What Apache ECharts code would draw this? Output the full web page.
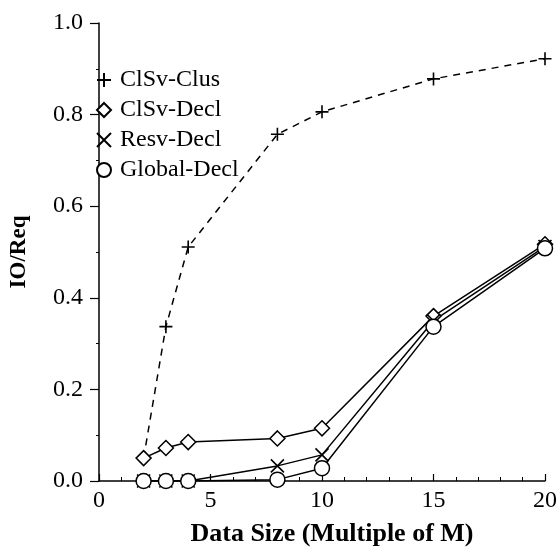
<!DOCTYPE html>
<html>
<head>
<meta charset="utf-8">
<script src="https://cdn.jsdelivr.net/npm/echarts@6/dist/echarts.min.js"></script>
<style>
html,body{margin:0;padding:0;background:#fff;}
#chart{width:560px;height:552px;}
</style>
</head>
<body>
<div id="chart"></div>
<script>
var seriesNames = ['ClSv-Clus', 'ClSv-Decl', 'Resv-Decl', 'Global-Decl'];
var xClus = [2, 3, 4, 8, 10, 15, 20];
var yClus = [0.05, 0.337, 0.511, 0.757, 0.806, 0.878, 0.922];
var xDecl = [2, 3, 4, 8, 10, 15, 20];
var yClSvDecl = [0.05, 0.072, 0.085, 0.093, 0.115, 0.36, 0.517];
var yResvDecl = [0, 0, 0, 0.033, 0.057, 0.35, 0.512];
var yGlobalDecl = [0, 0, 0, 0.003, 0.028, 0.337, 0.508];
var xTicks = [0, 5, 10, 15, 20];
var yTicks = [0.0, 0.2, 0.4, 0.6, 0.8, 1.0];

var PLUS = 'path://M0,5L10,5M5,0L5,10';
var DIAMOND = 'path://M5,0L10,5L5,10L0,5Z';
var CROSS = 'path://M0,0L10,10M10,0L0,10';

function pairs(xs, ys) { return xs.map(function (x, i) { return [x, ys[i]]; }); }

var clusData = pairs(xClus, yClus).map(function (p, i) {
  return i === 0 ? { value: p, symbol: 'none' } : { value: p };
});

var chart = echarts.init(document.getElementById('chart'), null, { renderer: 'canvas' });
var font = 'Liberation Serif';
var option = {
  animation: false,
  backgroundColor: '#fff',
  grid: { left: 98, right: 15, top: 23, bottom: 69, containLabel: false },
  legend: {
    orient: 'vertical',
    left: 91,
    top: 63,
    itemGap: 6,
    itemWidth: 14,
    itemHeight: 14,
    textStyle: { fontFamily: font, fontSize: 24, color: '#000', padding: [0, 0, 0, 4] },
    data: [
      { name: seriesNames[0], icon: PLUS },
      { name: seriesNames[1], icon: DIAMOND },
      { name: seriesNames[2], icon: CROSS },
      { name: seriesNames[3], icon: 'circle' }
    ]
  },
  xAxis: {
    type: 'value', min: 0, max: 20, interval: 5,
    name: 'Data Size (Multiple of M)',
    nameLocation: 'middle', nameGap: 40,
    nameTextStyle: { fontFamily: font, fontSize: 26, fontWeight: 'bold', color: '#000', padding: [0, 0, 0, 20] },
    axisLine: { lineStyle: { color: '#000', width: 1.5 } },
    axisTick: { inside: true, length: 7, lineStyle: { color: '#000', width: 1.2 } },
    minorTick: { show: true, splitNumber: 5, length: 4, lineStyle: { color: '#000', width: 1 } },
    splitLine: { show: false },
    axisLabel: { fontFamily: font, fontSize: 24, color: '#000', margin: 8,
      formatter: function (v) { return xTicks.indexOf(v) >= 0 ? String(v) : ''; } }
  },
  yAxis: {
    type: 'value', min: 0, max: 1, interval: 0.2,
    name: 'IO/Req',
    nameLocation: 'middle', nameGap: 68,
    nameTextStyle: { fontFamily: font, fontSize: 23, fontWeight: 'bold', color: '#000' },
    axisLine: { show: true, lineStyle: { color: '#000', width: 1.5 } },
    axisTick: { show: true, inside: false, length: 9, lineStyle: { color: '#000', width: 1.2 } },
    minorTick: { show: true, splitNumber: 2, length: 3, lineStyle: { color: '#000', width: 1 } },
    splitLine: { show: false },
    axisLabel: { fontFamily: font, fontSize: 24, color: '#000', margin: 16,
      formatter: function (v) {
        for (var i = 0; i < yTicks.length; i++) { if (Math.abs(yTicks[i] - v) < 1e-9) return yTicks[i].toFixed(1); }
        return '';
      } }
  },
  series: [
    {
      name: seriesNames[0], type: 'line', data: clusData,
      symbol: PLUS, symbolSize: 13,
      lineStyle: { color: '#000', width: 1.5, type: [7, 6] },
      itemStyle: { color: 'rgba(0,0,0,0)', borderColor: '#000', borderWidth: 1.6 },
      z: 2
    },
    {
      name: seriesNames[1], type: 'line', data: pairs(xDecl, yClSvDecl),
      symbol: DIAMOND, symbolSize: 15,
      lineStyle: { color: '#000', width: 1.5 },
      itemStyle: { color: '#fff', borderColor: '#000', borderWidth: 1.5 },
      z: 3
    },
    {
      name: seriesNames[2], type: 'line', data: pairs(xDecl, yResvDecl),
      symbol: CROSS, symbolSize: 13,
      lineStyle: { color: '#000', width: 1.5 },
      itemStyle: { color: 'rgba(0,0,0,0)', borderColor: '#000', borderWidth: 1.6 },
      z: 3
    },
    {
      name: seriesNames[3], type: 'line', data: pairs(xDecl, yGlobalDecl),
      symbol: 'circle', symbolSize: 15,
      lineStyle: { color: '#000', width: 1.5 },
      itemStyle: { color: '#fff', borderColor: '#000', borderWidth: 1.5 },
      z: 4
    }
  ]
};
chart.setOption(option);
</script>
</body>
</html>
